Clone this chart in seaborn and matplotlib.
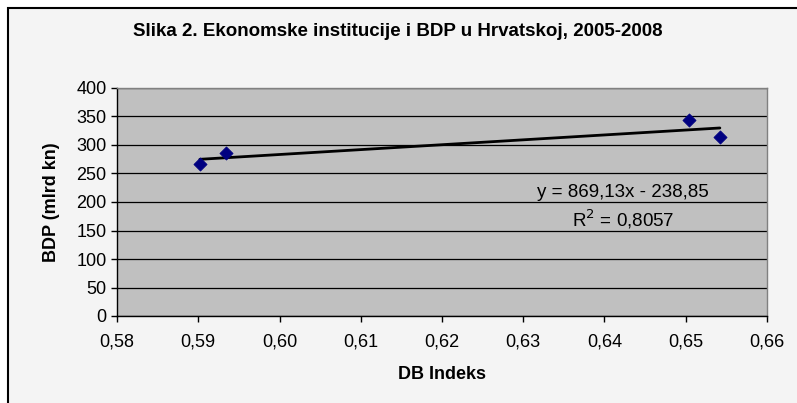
import matplotlib
matplotlib.use("Agg")
import matplotlib.pyplot as plt
import matplotlib.ticker as mticker
from matplotlib.patches import Rectangle
import seaborn as sns
import pandas as pd

# data
db_indeks = [0.5902, 0.5934, 0.6504, 0.6542]
bdp = [266, 286, 343, 314]
eq_text = "y = 869,13x - 238,85"
r2_text = "R$^2$ = 0,8057"

df = pd.DataFrame({"DB Indeks": db_indeks, "BDP": bdp})

sns.set_style("white")
plt.rcParams['font.family'] = ['Liberation Sans', 'DejaVu Sans']
plt.rcParams['text.color'] = 'black'
plt.rcParams['axes.labelcolor'] = 'black'
plt.rcParams['xtick.color'] = 'black'
plt.rcParams['ytick.color'] = 'black'

fig = plt.figure(figsize=(7.97, 4.03), dpi=100)
fig.patch.set_facecolor("white")
# chart area frame (light gray, black border on left/top)
frame = Rectangle((8 / 797, -0.1), 1.2, 1 - 8 / 403 + 0.1,
                  transform=fig.transFigure, facecolor="#f4f4f4",
                  edgecolor="black", linewidth=1.5, zorder=-10)
fig.patches.append(frame)

ax = fig.add_axes([117 / 797, 1 - 316 / 403, 650 / 797, 228 / 403])
ax.set_facecolor("#c0c0c0")

sns.regplot(data=df, x="DB Indeks", y="BDP", ax=ax, ci=None, scatter=False,
            truncate=True, line_kws={"color": "black", "linewidth": 2})
sns.scatterplot(data=df, x="DB Indeks", y="BDP", ax=ax, marker="D", s=45,
                color="#000080", edgecolor="#000080", zorder=5)

ax.set_xlim(0.58, 0.66)
ax.set_ylim(0, 400)
ax.xaxis.set_major_locator(mticker.MultipleLocator(0.01))
ax.yaxis.set_major_locator(mticker.MultipleLocator(50))
ax.xaxis.set_major_formatter(mticker.FuncFormatter(lambda v, p: f"{v:.2f}".replace(".", ",")))
ax.yaxis.set_major_formatter(mticker.FuncFormatter(lambda v, p: f"{v:.0f}"))
ax.grid(axis="y", color="black", linewidth=0.9)
ax.set_axisbelow(True)
ax.tick_params(axis="both", which="major", direction="out", length=4.5, width=1,
               color="black", labelsize=13, bottom=True, left=True)
ax.tick_params(axis="x", pad=8)
ax.tick_params(axis="y", pad=3)
for side in ["top", "right"]:
    ax.spines[side].set_color("#808080")
    ax.spines[side].set_linewidth(1)
for side in ["left", "bottom"]:
    ax.spines[side].set_color("black")
    ax.spines[side].set_linewidth(1)

ax.set_xlabel("DB Indeks", fontsize=13, fontweight="bold", labelpad=11)
ax.set_ylabel("BDP (mlrd kn)", fontsize=13, fontweight="bold", labelpad=12)

ax.text(0.6423, 216, eq_text, ha="center", va="center", fontsize=13.5)
ax.text(0.6423, 170, r2_text, ha="center", va="center", fontsize=13.5)

fig.text(398 / 797, 1 - 31 / 403, "Slika 2. Ekonomske institucije i BDP u Hrvatskoj, 2005-2008",
         ha="center", va="center", fontsize=13.5, fontweight="bold")

fig.savefig("out.png", dpi=100, facecolor=fig.get_facecolor())
